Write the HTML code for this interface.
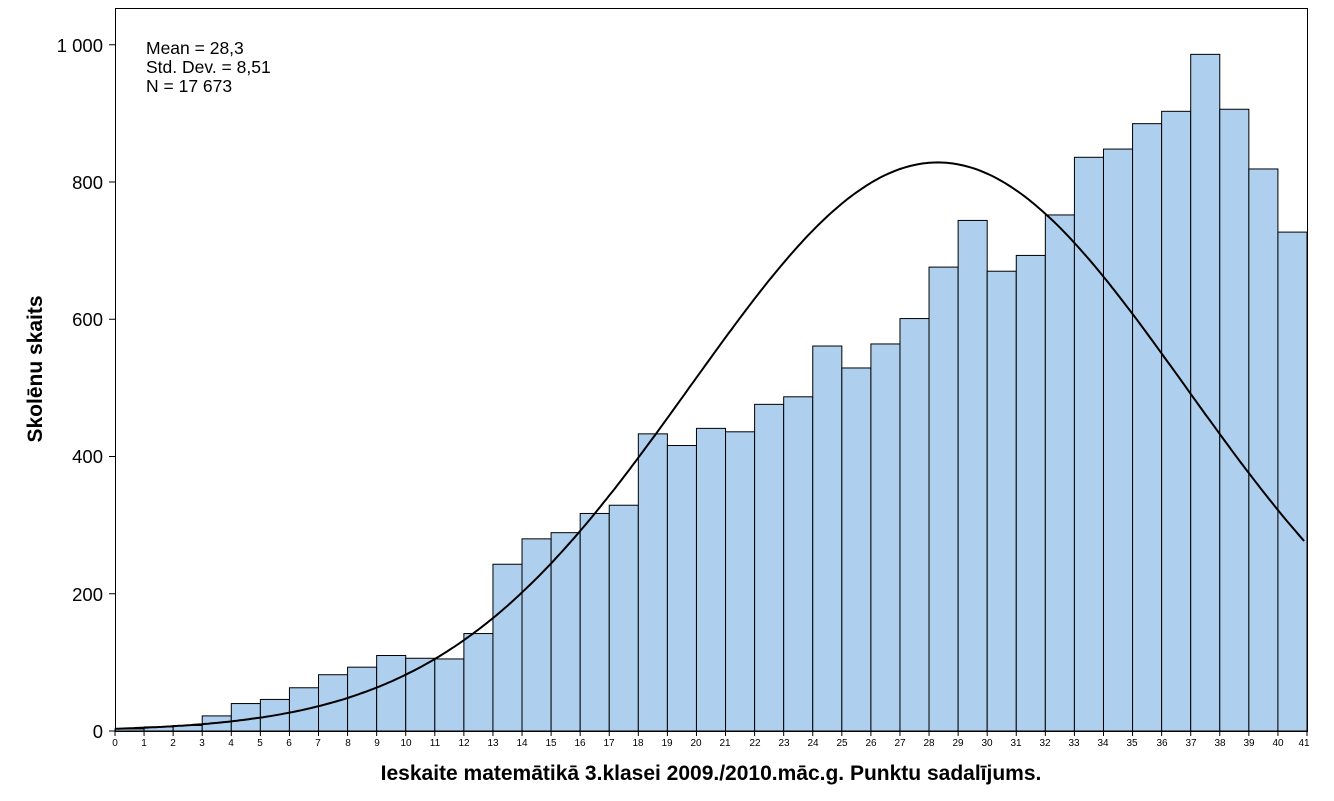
<!DOCTYPE html>
<html><head><meta charset="utf-8"><style>
html,body{margin:0;padding:0;background:#fff;}
svg{display:block;font-family:"Liberation Sans",Arial,sans-serif;}
</style></head><body>
<svg id="s" width="1334" height="801" viewBox="0 0 1334 801" xmlns="http://www.w3.org/2000/svg">
<rect x="0" y="0" width="1334" height="801" fill="#fff"/>
<g id="bars"></g>
<path id="curve" fill="none" stroke="#000" stroke-width="2"/>
<rect x="115.5" y="8.5" width="1192" height="723" fill="none" stroke="#000" stroke-width="1"/>
<g font-size="18.5" text-anchor="end" fill="#000">
<text x="103" y="738">0</text>
<text x="103" y="601">200</text>
<text x="103" y="463">400</text>
<text x="103" y="326">600</text>
<text x="103" y="189">800</text>
<text x="103" y="52">1 000</text>
</g>
<g id="yt" stroke="#000"></g>
<g id="xt" stroke="#000"></g>
<g font-size="10" text-anchor="middle" fill="#000">
<text x="115" y="746">0</text><text x="144" y="746">1</text><text x="173" y="746">2</text><text x="202" y="746">3</text><text x="231" y="746">4</text><text x="260" y="746">5</text><text x="289" y="746">6</text><text x="318" y="746">7</text><text x="348" y="746">8</text><text x="377" y="746">9</text><text x="406" y="746">10</text><text x="435" y="746">11</text><text x="464" y="746">12</text><text x="493" y="746">13</text><text x="522" y="746">14</text><text x="551" y="746">15</text><text x="580" y="746">16</text><text x="609" y="746">17</text><text x="638" y="746">18</text><text x="667" y="746">19</text><text x="696" y="746">20</text><text x="725" y="746">21</text><text x="755" y="746">22</text><text x="784" y="746">23</text><text x="813" y="746">24</text><text x="842" y="746">25</text><text x="871" y="746">26</text><text x="900" y="746">27</text><text x="929" y="746">28</text><text x="958" y="746">29</text><text x="987" y="746">30</text><text x="1016" y="746">31</text><text x="1045" y="746">32</text><text x="1074" y="746">33</text><text x="1103" y="746">34</text><text x="1132" y="746">35</text><text x="1162" y="746">36</text><text x="1191" y="746">37</text><text x="1220" y="746">38</text><text x="1249" y="746">39</text><text x="1278" y="746">40</text><text x="1304" y="746">41</text>
</g>
<g font-size="17.5" fill="#000">
<text x="146" y="54">Mean = 28,3</text>
<text x="146" y="73">Std. Dev. = 8,51</text>
<text x="146" y="92">N = 17 673</text>
</g>
<text x="711" y="780" font-size="21" font-weight="bold" text-anchor="middle">Ieskaite matemātikā 3.klasei 2009./2010.māc.g. Punktu sadalījums.</text>
<text transform="translate(42,369) rotate(-90)" font-size="21" font-weight="bold" text-anchor="middle">Skolēnu skaits</text>
</svg>
<script>
var ns="http://www.w3.org/2000/svg";
var h=[3,6,8,22,40,46,63,82,93,110,106,105,142,243,280,289,317,329,433,416,441,436,476,487,561,529,564,601,676,744,670,693,752,836,848,885,903,986,906,819,727];
var x0=115,px=(1307-115)/41,y0=731,py=0.68625;
var g=document.getElementById("bars");
h.forEach(function(v,i){var r=document.createElementNS(ns,"rect");
r.setAttribute("x",x0+i*px);r.setAttribute("y",y0-v*py);r.setAttribute("width",px);r.setAttribute("height",v*py);
r.setAttribute("fill","#aecfee");r.setAttribute("stroke","#000");r.setAttribute("stroke-width","1");g.appendChild(r);});
var d="";for(var t=0;t<=41;t+=0.1){var f=17673/(8.51*Math.sqrt(2*Math.PI))*Math.exp(-Math.pow(t-28.3,2)/(2*8.51*8.51));
d+=(t==0?"M":"L")+(x0+t*px).toFixed(1)+","+(y0-f*py).toFixed(1);}
document.getElementById("curve").setAttribute("d",d);
var yt=document.getElementById("yt");
for(var k=0;k<=1000;k+=200){var l=document.createElementNS(ns,"line");var y=y0-k*py;
l.setAttribute("x1",109);l.setAttribute("x2",115);l.setAttribute("y1",y);l.setAttribute("y2",y);yt.appendChild(l);}
var xt=document.getElementById("xt");
for(var k=0;k<=41;k++){var l=document.createElementNS(ns,"line");var x=x0+k*px;
l.setAttribute("x1",x);l.setAttribute("x2",x);l.setAttribute("y1",731);l.setAttribute("y2",736);xt.appendChild(l);}
</script>
</body></html>
